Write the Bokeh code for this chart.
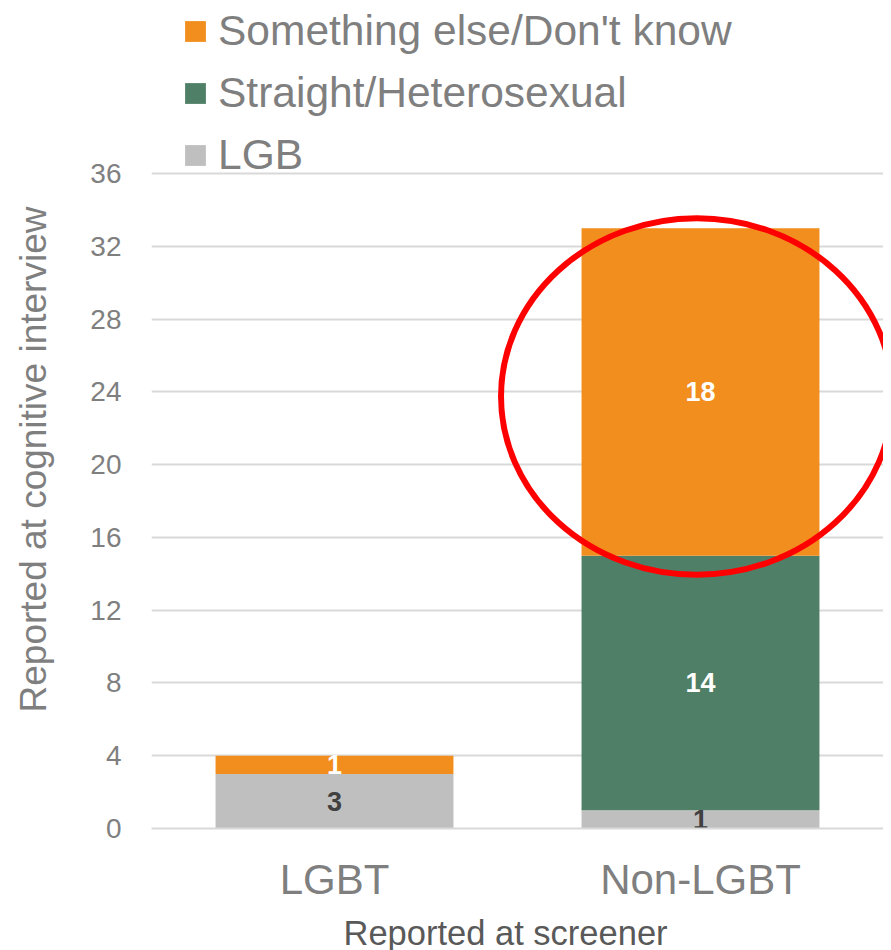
from bokeh.plotting import figure
from bokeh.models import (ColumnDataSource, FactorRange, Range1d, FixedTicker,
                          Legend, LegendItem, Title)
from bokeh.core.properties import value
from bokeh.embed import file_html
from bokeh.resources import INLINE

# ---- data ----
categories = ["LGBT", "Non-LGBT"]
series_names = ["LGB", "Straight/Heterosexual", "Something else/Don't know"]
lgb = [3, 1]
straight = [0, 14]
something_else = [1, 18]
y_ticks = [0, 4, 8, 12, 16, 20, 24, 28, 32, 36]
highlight_category = "Non-LGBT"
y_title = "Reported at cognitive interview"
x_title = "Reported at screener"

colors = ["#BFBFBF", "#507F67", "#F28E1E"]
label_colors = ["#404040", "#FFFFFF", "#FFFFFF"]
FONT = "Liberation Sans"

keys = ["lgb", "straight", "other"]
src = ColumnDataSource(dict(cat=categories, lgb=lgb, straight=straight, other=something_else))

p = figure(x_range=FactorRange(*categories), y_range=Range1d(0, 820 / 18.19),
           frame_width=732, frame_height=820, min_border_left=151,
           min_border_right=0, min_border_top=8, min_border_bottom=114,
           output_backend="svg", toolbar_location=None, outline_line_color=None)

rs = p.vbar_stack(keys, x="cat", width=0.65, source=src, color=colors, line_color=None)

# data labels at segment centres
lx, ly, lt, lc = [], [], [], []
series_vals = [lgb, straight, something_else]
for i, c in enumerate(categories):
    base = 0
    for s, vals in enumerate(series_vals):
        v = vals[i]
        if v > 0:
            lx.append(c)
            ly.append(base + v / 2)
            lt.append(str(v))
            lc.append(label_colors[s])
        base += v
lsrc = ColumnDataSource(dict(x=lx, y=ly, t=lt, c=lc))
p.text(x="x", y="y", text="t", source=lsrc, text_color="c", text_align="center",
       text_baseline="middle", text_font=value(FONT), text_font_size="27px",
       text_font_style="bold")

# highlight ellipse around the "Something else" segment of Non-LGBT
hi = categories.index(highlight_category)
seg_base = lgb[hi] + straight[hi]
seg_val = something_else[hi]
p.ellipse(x=[(highlight_category, -0.01)], y=[seg_base + seg_val / 2 - 0.25],
          width=1.07, height=19.6, fill_color=None, line_color="#FF0000", line_width=6)

# axes
p.yaxis.ticker = FixedTicker(ticks=y_ticks)
p.yaxis.axis_line_color = None
p.yaxis.major_tick_line_color = None
p.yaxis.minor_tick_line_color = None
p.yaxis.major_label_text_font = FONT
p.yaxis.major_label_text_font_size = "28px"
p.yaxis.major_label_text_color = "#7F7F7F"
p.yaxis.major_label_standoff = 24

p.xaxis.axis_line_color = "#D9D9D9"
p.xaxis.axis_line_width = 2
p.xaxis.major_tick_line_color = None
p.xaxis.minor_tick_line_color = None
p.xaxis.major_label_text_font = FONT
p.xaxis.major_label_text_font_size = "42px"
p.xaxis.major_label_text_color = "#7F7F7F"
p.xaxis.major_label_standoff = 21

# spacer between the y tick labels and the y title
p.add_layout(Title(text=" ", standoff=21, text_font_size="1px"), "left")
p.add_layout(Title(text=y_title, align="left", offset=116, standoff=20,
                   text_font=FONT, text_font_size="37px", text_font_style="normal",
                   text_color="#7F7F7F"), "left")
p.add_layout(Title(text=x_title, align="left", offset=192, standoff=12,
                   text_font=FONT, text_font_size="34.5px", text_font_style="normal",
                   text_color="#595959"), "below")

p.xgrid.grid_line_color = None
p.ygrid.grid_line_color = "#D9D9D9"
p.ygrid.grid_line_width = 2

items = [LegendItem(label=series_names[i], renderers=[rs[i]]) for i in (2, 1, 0)]
legend = Legend(items=items, location=(31, 649), padding=0, margin=0,
                border_line_color=None, background_fill_alpha=0,
                label_text_font=FONT, label_text_font_size="42.5px",
                label_text_color="#7F7F7F", glyph_width=26, glyph_height=26,
                label_height=48, spacing=14, label_standoff=10)
p.add_layout(legend)

open("out.html", "w").write(file_html(p, INLINE))
